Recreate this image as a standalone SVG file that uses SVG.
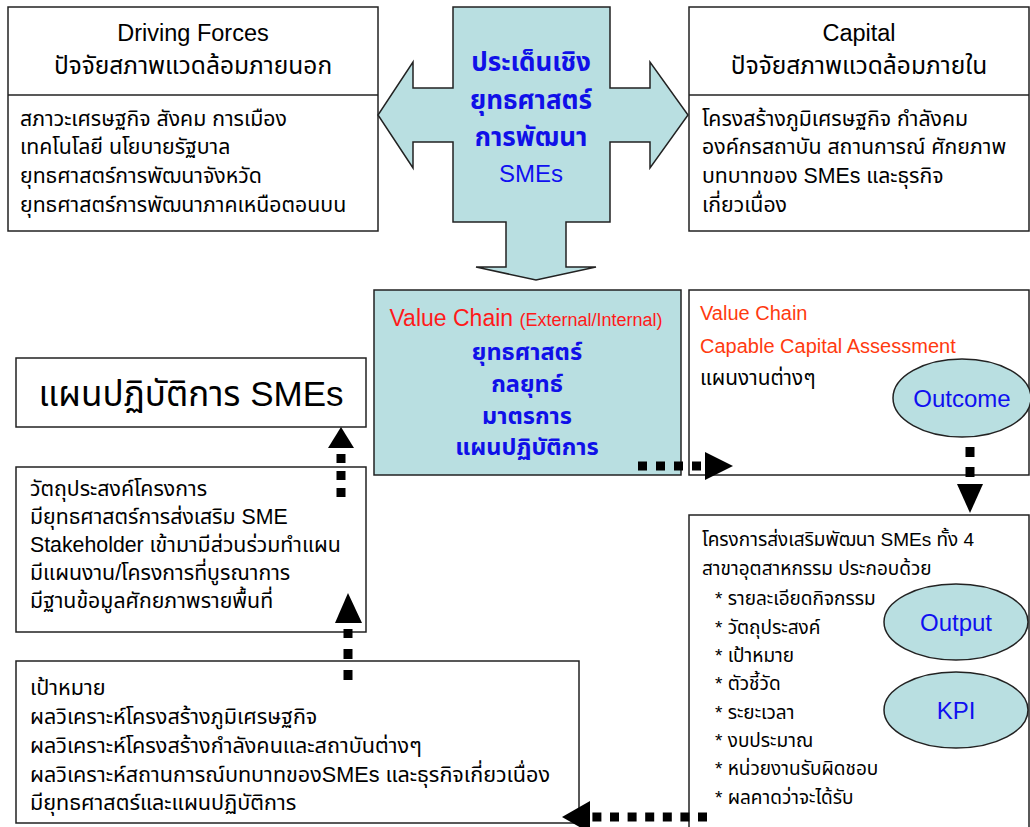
<svg xmlns="http://www.w3.org/2000/svg" width="1030" height="827" viewBox="0 0 1030 827">
<style>
text{font-family:"Liberation Sans","Noto Sans Thai","Noto Sans",sans-serif;fill:#000}
.box{fill:#fff;stroke:#222;stroke-width:1.5}
.teal{fill:#b9dfe1;stroke:#222;stroke-width:1.5}
.hd{font-size:23.5px;text-anchor:middle}
.hdt{font-size:24.5px;text-anchor:middle}
.bd{font-size:21.3px}
.br{font-size:19px}
.blue{fill:#1010e8;font-weight:bold;font-size:23.5px;text-anchor:middle}
.bigblue{fill:#1010e8;font-weight:bold;font-size:26px;text-anchor:middle}
.ov{fill:#1010f0;font-size:24px;text-anchor:middle}
.dot{stroke:#000;stroke-width:9;fill:none}
.head{fill:#000}
.red{fill:#ff1a1a}
.ora{fill:#ff3a10}
.cond{font-size:21.6px}
</style>
<rect width="1030" height="827" fill="#fff"/>

<g id="driving-forces">
<rect class="box" x="8" y="7" width="370" height="224"/>
<line x1="8" y1="95" x2="378" y2="95" stroke="#222" stroke-width="1.5"/>
<text class="hd" x="193" y="41">Driving Forces</text>
<text class="hdt" x="193" y="74">ปัจจัยสภาพแวดล้อมภายนอก</text>
<text class="bd" x="20" y="126">สภาวะเศรษฐกิจ สังคม การเมือง</text>
<text class="bd" x="20" y="154">เทคโนโลยี นโยบายรัฐบาล</text>
<text class="bd" x="20" y="183">ยุทธศาสตร์การพัฒนาจังหวัด</text>
<text class="bd" x="20" y="212">ยุทธศาสตร์การพัฒนาภาคเหนือตอนบน</text>
</g>

<g id="capital">
<rect class="box" x="689" y="7" width="340" height="224"/>
<line x1="689" y1="95" x2="1029" y2="95" stroke="#222" stroke-width="1.5"/>
<text class="hd" x="859" y="41">Capital</text>
<text class="hdt" x="859" y="74">ปัจจัยสภาพแวดล้อมภายใน</text>
<text class="bd" x="702" y="126">โครงสร้างภูมิเศรษฐกิจ กำลังคม</text>
<text class="bd" x="702" y="154">องค์กรสถาบัน สถานการณ์ ศักยภาพ</text>
<text class="bd" x="702" y="183">บทบาทของ SMEs และธุรกิจ</text>
<text class="bd" x="702" y="212">เกี่ยวเนื่อง</text>
</g>

<g id="strategic-issues">
<polygon class="teal" points="453,7 610,7 610,88 650,88 650,62 688,115 650,168 650,142 610,142 610,222 566,222 566,267 596,267 536,280 476,267 506,267 506,222 453,222 453,142 413,142 413,168 378,115 413,62 413,88 453,88"/>
<text class="bigblue" x="531" y="71">ประเด็นเชิง</text>
<text class="bigblue" x="531" y="109">ยุทธศาสตร์</text>
<text class="bigblue" x="531" y="146">การพัฒนา</text>
<text class="ov" x="531" y="182">SMEs</text>
</g>

<g id="value-chain-strategy">
<rect class="teal" x="374" y="290" width="307" height="185"/>
<text x="526" y="326" text-anchor="middle"><tspan class="red" font-size="23">Value Chain </tspan><tspan class="red" font-size="18">(External/Internal)</tspan></text>
<text class="blue" x="527" y="360">ยุทธศาสตร์</text>
<text class="blue" x="527" y="392">กลยุทธ์</text>
<text class="blue" x="527" y="424">มาตรการ</text>
<text class="blue" x="527" y="455">แผนปฏิบัติการ</text>
</g>

<g id="value-chain-assessment">
<rect class="box" x="689" y="290" width="340" height="185"/>
<text class="ora" x="700" y="320" font-size="20">Value Chain</text>
<text class="ora" x="700" y="353" font-size="20">Capable Capital Assessment</text>
<text x="700" y="385" font-size="20.8">แผนงานต่างๆ</text>
</g>

<g id="outcome">
<ellipse class="teal" cx="962" cy="398" rx="69" ry="39"/>
<text class="ov" x="962" y="407">Outcome</text>
</g>

<g id="projects">
<rect class="box" x="689" y="515" width="340" height="320"/>
<text class="br" x="702" y="546">โครงการส่งเสริมพัฒนา SMEs ทั้ง 4</text>
<text class="br" x="702" y="575">สาขาอุตสาหกรรม ประกอบด้วย</text>
<text class="br" x="715" y="605">* รายละเอียดกิจกรรม</text>
<text class="br" x="715" y="634">* วัตถุประสงค์</text>
<text class="br" x="715" y="662">* เป้าหมาย</text>
<text class="br" x="715" y="690">* ตัวชี้วัด</text>
<text class="br" x="715" y="719">* ระยะเวลา</text>
<text class="br" x="715" y="747">* งบประมาณ</text>
<text class="br" x="715" y="775">* หน่วยงานรับผิดชอบ</text>
<text class="br" x="715" y="804">* ผลคาดว่าจะได้รับ</text>
</g>

<g id="output">
<ellipse class="teal" cx="956" cy="622" rx="72" ry="38"/>
<text class="ov" x="956" y="631">Output</text>
</g>

<g id="kpi">
<ellipse class="teal" cx="956" cy="710" rx="72" ry="38"/>
<text class="ov" x="956" y="719">KPI</text>
</g>

<g id="action-plan">
<rect class="box" x="16" y="358" width="350" height="69"/>
<text x="191" y="406" font-size="35" text-anchor="middle">แผนปฏิบัติการ SMEs</text>
</g>

<g id="objectives">
<rect class="box" x="16" y="467" width="350" height="165"/>
<text class="bd" x="30" y="496">วัตถุประสงค์โครงการ</text>
<text class="bd" x="30" y="524">มียุทธศาสตร์การส่งเสริม SME</text>
<text class="bd" x="30" y="552">Stakeholder เข้ามามีส่วนร่วมทำแผน</text>
<text class="bd" x="30" y="580">มีแผนงาน/โครงการที่บูรณาการ</text>
<text class="bd" x="30" y="608">มีฐานข้อมูลศักยภาพรายพื้นที่</text>
</g>

<g id="goals">
<rect class="box" x="16" y="661" width="563" height="162"/>
<text class="cond" x="30" y="695">เป้าหมาย</text>
<text class="cond" x="30" y="724">ผลวิเคราะห์โครงสร้างภูมิเศรษฐกิจ</text>
<text class="cond" x="30" y="753">ผลวิเคราะห์โครงสร้างกำลังคนและสถาบันต่างๆ</text>
<text class="cond" x="30" y="782">ผลวิเคราะห์สถานการณ์บทบาทของSMEs และธุรกิจเกี่ยวเนื่อง</text>
<text class="cond" x="30" y="810">มียุทธศาสตร์และแผนปฏิบัติการ</text>
</g>

<g id="connectors">
<line class="dot" x1="638" y1="466" x2="705" y2="466" stroke-dasharray="9 9"/>
<polygon class="head" points="705,452 733,466 705,480"/>
<line class="dot" x1="970" y1="447" x2="970" y2="484" stroke-dasharray="10 10"/>
<polygon class="head" points="957,484 983,484 970,513"/>
<line class="dot" x1="341" y1="497" x2="341" y2="452" stroke-dasharray="9 8"/>
<polygon class="head" points="328,448 354,448 341,427"/>
<line class="dot" x1="348" y1="680" x2="348" y2="629" stroke-dasharray="10 11"/>
<polygon class="head" points="335,623 362,623 348,593"/>
<line class="dot" x1="707" y1="817" x2="590" y2="817" stroke-dasharray="9 8.6"/>
<polygon class="head" points="590,801 590,833 562,817"/>
</g>
</svg>
